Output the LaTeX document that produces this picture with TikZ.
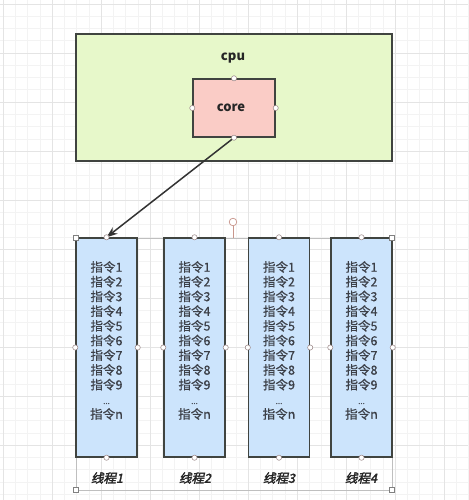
\documentclass[tikz,border=0pt]{standalone}
\usepackage{fontspec}
\newfontfamily\cjk{Noto Sans CJK SC}
\newfontfamily\cjkm[FakeBold=0.6]{Noto Sans CJK SC}
\newfontfamily\cjkbi[FakeSlant=0.22,FakeBold=2.4]{Noto Sans CJK SC}
\usetikzlibrary{arrows.meta}
\definecolor{cpufill}{RGB}{231,248,202}
\definecolor{corefill}{RGB}{250,204,198}
\definecolor{thrfill}{RGB}{204,228,252}
\definecolor{edge}{RGB}{64,68,64}
\definecolor{gridmin}{RGB}{243,243,243}
\definecolor{gridmaj}{RGB}{228,228,228}
\definecolor{handle}{RGB}{150,130,130}
\definecolor{rothandle}{RGB}{200,150,140}
\definecolor{txt}{RGB}{60,64,72}
\tikzset{
  box/.style={draw=edge, line width=1.4pt, inner sep=0pt},
  thrbox/.style={box, fill=thrfill, minimum width=61pt, minimum height=219pt},
  instr/.style={font=\cjkm\fontsize{12.5}{14.7}\selectfont, align=center, text=txt, inner sep=0pt},
  thrlabel/.style={font=\cjkbi\fontsize{12.5}{14}\selectfont, text=black!85, inner sep=0pt},
  hnd/.style={draw=handle, fill=white, line width=0.5pt},
  frame/.style={draw=black!25, line width=0.6pt},
  conn/.style={draw=black!80, line width=1.5pt, -{Stealth[length=11pt,width=8pt]}}
}
\begin{document}
\begin{tikzpicture}[x=1pt,y=-1pt]
\useasboundingbox (0,0) rectangle (468,500);
\fill[white] (0,0) rectangle (468,500);
% grid
\foreach \i in {0,...,38} {
  \draw[gridmin, line width=0.5pt] ({3+12.25*\i},0) -- ({3+12.25*\i},500);
}
\foreach \i in {0,...,41} {
  \draw[gridmin, line width=0.5pt] (0,{4+12.25*\i}) -- (468,{4+12.25*\i});
}
\foreach \i in {0,...,9} {
  \draw[gridmaj, line width=0.6pt] ({3+49*\i},0) -- ({3+49*\i},500);
  \draw[gridmaj, line width=0.6pt] (0,{4+49*\i}) -- (468,{4+49*\i});
}
% cpu
\node[box, fill=cpufill, minimum width=316pt, minimum height=127pt] (cpu) at (234,97.5) {};
\node[font=\cjk\bfseries\fontsize{13}{15}\selectfont, text=black!85] (cpulabel) at (233,58) {cpu};
\node[box, fill=corefill, minimum width=82pt, minimum height=58pt] (core) at (234,108) {};
\node[font=\cjk\bfseries\fontsize{13}{15}\selectfont, text=black!85] (corelabel) at (231,108) {core};
% group frame
\draw[frame] (76,238) rectangle (392,490);
\draw[rothandle, line width=0.7pt] (233,238) -- (233,226);
\draw[rothandle, fill=white, line width=0.7pt] (233,222) circle (3.8pt);
% thread boxes
\foreach \n/\x in {1/106.5, 2/194.5, 3/279, 4/361.5} {
  \node[thrbox] (t\n) at (\x,347.5) {};
  \node[instr] (txt\n) at (\x,340.5) {指令1\\指令2\\指令3\\指令4\\指令5\\指令6\\指令7\\指令8\\指令9\\{\fontsize{8}{14.7}\selectfont ...}\\指令n};
}
\node[thrlabel] (l1) at (107,478) {线程1};
\node[thrlabel] (l2) at (195,478) {线程2};
\node[thrlabel] (l3) at (279,478) {线程3};
\node[thrlabel] (l4) at (361,478) {线程4};
% connector
\draw[conn] (core.south) -- (t1.north);
% handles
\foreach \a in {north, south, east, west} {
  \draw[hnd] (core.\a) circle (2.6pt);
}
\foreach \n in {1,2,3,4} {
  \foreach \a in {north, south, east, west} {
    \draw[hnd] (t\n.\a) circle (2.6pt);
  }
}
\foreach \p in {(76,238),(392,238),(76,490),(392,490)} {
  \draw[hnd, draw=black!50] \p ++(-2.6,-2.6) rectangle ++(5.2,5.2);
}
\end{tikzpicture}
\end{document}
